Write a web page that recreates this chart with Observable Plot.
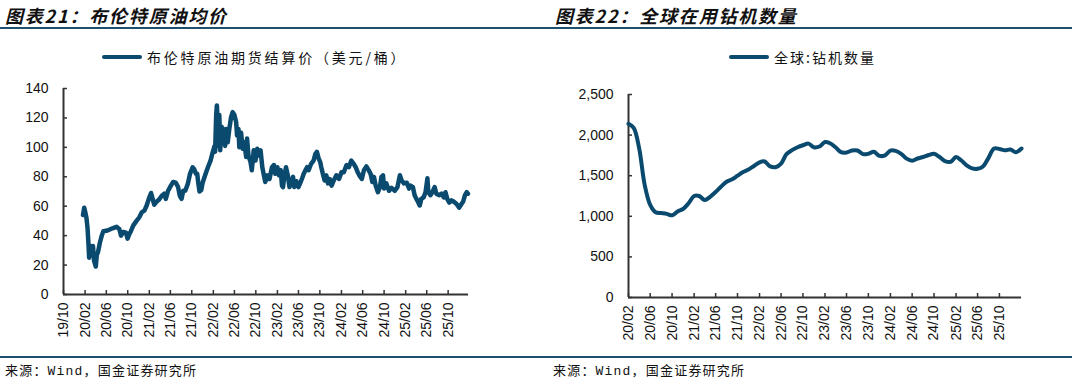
<!DOCTYPE html>
<html>
<head>
<meta charset="utf-8">
<script src="https://cdn.jsdelivr.net/npm/d3@7"></script>
<script src="https://cdn.jsdelivr.net/npm/@observablehq/plot@0.6"></script>
<style>
  html, body { margin: 0; padding: 0; background: #fff; }
  #root { position: relative; width: 1072px; height: 384px; overflow: hidden; background: #fff; }
  .title { position: absolute; top: 2px; font-family: "Noto Sans CJK SC", sans-serif; font-weight: 700; font-style: italic; font-size: 18px; letter-spacing: 1.8px; color: #111; white-space: nowrap; }
  .rule { position: absolute; left: 0; width: 1072px; height: 2px; background: #1f4f6e; }
  .legend { position: absolute; top: 47px; height: 20px; display: flex; align-items: center; font-family: "Noto Sans CJK SC", sans-serif; font-size: 14px; letter-spacing: 2px; color: #111; white-space: nowrap; }
  .legend .sw { width: 40px; height: 4px; border-radius: 2px; margin-right: 5px; }
  .foot { position: absolute; top: 360px; font-family: "Liberation Mono", "Noto Sans CJK SC", monospace; font-size: 13px; letter-spacing: 1.2px; color: #111; white-space: nowrap; }
  .chart { position: absolute; top: 80px; }
</style>
</head>
<body>
<div id="root">
  <div class="title" style="left:5px">图表21：布伦特原油均价</div>
  <div class="title" style="left:555px">图表22：全球在用钻机数量</div>
  <div class="rule" style="top:27px"></div>
  <div class="legend" style="left:102px; letter-spacing:2.8px"><span class="sw" id="sw1"></span><span>布伦特原油期货结算价（美元/桶）</span></div>
  <div class="legend" style="left:729px"><span class="sw" id="sw2"></span><span>全球:钻机数量</span></div>
  <div class="chart" id="c1" style="left:0px"></div>
  <div class="chart" id="c2" style="left:540px"></div>
  <div class="rule" style="top:356px"></div>
  <div class="foot" style="left:5px">来源：Wind，国金证券研究所</div>
  <div class="foot" style="left:553px">来源：Wind，国金证券研究所</div>
</div>
<script>
// ---------- Chart 21: Brent ----------
const brentDates = [
"2020-01-20","2020-01-27","2020-02-02","2020-02-09","2020-02-15","2020-02-20","2020-02-24","2020-03-04","2020-03-10","2020-03-17",
"2020-03-23","2020-04-02","2020-04-08","2020-04-15","2020-04-25","2020-05-06","2020-05-15","2020-06-08","2020-07-06","2020-07-29",
"2020-08-14","2020-08-24","2020-09-06","2020-09-21","2020-09-30","2020-10-10","2020-10-19","2020-11-02","2020-11-17","2020-12-06",
"2020-12-21","2021-01-04","2021-01-17","2021-01-29","2021-02-11","2021-02-20","2021-03-01","2021-03-14","2021-03-29","2021-04-12",
"2021-04-27","2021-05-06","2021-05-19","2021-06-04","2021-06-17","2021-07-02","2021-07-15","2021-07-25","2021-08-04","2021-08-13",
"2021-08-25","2021-09-08","2021-09-21","2021-10-06","2021-10-15","2021-10-25","2021-11-01","2021-11-08","2021-11-14","2021-11-24",
"2021-12-02","2021-12-16","2022-01-01","2022-01-16","2022-01-29","2022-02-08","2022-02-11","2022-02-17","2022-02-21","2022-02-27",
"2022-03-01","2022-03-07","2022-03-12","2022-03-20","2022-03-25","2022-04-01","2022-04-09","2022-04-16","2022-04-24","2022-05-03",
"2022-05-13","2022-05-22","2022-06-01","2022-06-11","2022-06-16","2022-06-24","2022-06-29","2022-07-09","2022-07-18","2022-07-27",
"2022-08-07","2022-08-12","2022-08-20","2022-09-01","2022-09-08","2022-09-19","2022-09-29","2022-10-09","2022-10-18","2022-10-28",
"2022-11-07","2022-11-16","2022-11-24","2022-12-05","2022-12-18","2023-01-01","2023-01-12","2023-01-20","2023-02-01","2023-02-10",
"2023-02-20","2023-02-27","2023-03-05","2023-03-12","2023-03-22","2023-04-01","2023-04-11","2023-04-20","2023-05-01","2023-05-08",
"2023-05-20","2023-06-01","2023-06-12","2023-06-22","2023-07-01","2023-07-11","2023-07-20","2023-07-29","2023-08-13","2023-08-26",
"2023-09-05","2023-09-14","2023-09-24","2023-10-03","2023-10-09","2023-10-18","2023-10-28","2023-11-07","2023-11-16","2023-11-26",
"2023-12-07","2023-12-19","2024-01-03","2024-01-18","2024-02-01","2024-02-14","2024-03-01","2024-03-14","2024-03-28","2024-04-10",
"2024-04-22","2024-05-04","2024-05-18","2024-05-27","2024-06-08","2024-06-22","2024-07-05","2024-07-16","2024-07-26","2024-08-04",
"2024-08-14","2024-08-27","2024-09-07","2024-09-16","2024-09-25","2024-10-01","2024-10-14","2024-10-29","2024-11-12","2024-12-01",
"2024-12-16","2024-12-30","2025-01-09","2025-01-22","2025-02-07","2025-02-20","2025-03-01","2025-03-14","2025-03-24","2025-04-03",
"2025-04-12","2025-04-22","2025-05-01","2025-05-14","2025-05-25","2025-06-05","2025-06-10","2025-06-22","2025-07-03","2025-07-16",
"2025-07-26","2025-08-09","2025-08-24","2025-09-07","2025-09-16","2025-09-26","2025-10-07","2025-10-20","2025-11-03","2025-11-18",
"2025-12-03","2025-12-16","2025-12-25","2026-01-05","2026-01-15","2026-01-22"
];
const brentValues = [
54,59,56,52,45,35,25,33,27,33,
23,19,27,29,35,40,43,43.5,45,46,
44.5,40,42.5,42,38,41,43,47,49.5,52.5,
56,57,60.5,65,69,65,61,63,64.5,67,
68.5,65,70.5,74,76.5,76,73,67,65,70.5,
70.5,75,82,86.5,85,82,82,75,70,71,
76,81,86.5,91,97,101,97,122,128.5,115,
101,122,98,114,106,112.5,101,112.5,103.5,112.5,
120.5,124,122,117,108,112.5,100,110,99,103.5,
93.5,106,94.5,90,84.5,98,91,99,94.5,98,
86.5,81,76.5,81,78.5,86.5,88,82,86.5,81,
84.5,74,73,80,86.5,81,73,76.5,80,73,
77,73,76,79,82,84.5,86.5,84.5,89,91,
95.5,97,92.5,90,86.5,82,77.5,81,75.5,78.5,
74,77.5,81,78.5,83,83,88,86.5,91,89,
86.5,83,80,78.5,84.5,87,84.5,82,76.5,80,
74,69.5,73,80,81,72,75.5,70.5,72.5,70.5,
73,81,77.5,75.5,76,72,74,73,67.5,65,
63,60.5,65,66,69.5,79,69.5,67.5,69.5,73,
68.5,67.5,68.5,66,69.5,65,62.5,64,63,61.5,
59,61.5,63,67.5,69.5,68.5
];
const brentYTicks = [0, 20, 40, 60, 80, 100, 120, 140];
const brentXTickLabels = ["19/10","20/02","20/06","20/10","21/02","21/06","21/10","22/02","22/06","22/10","23/02","23/06","23/10","24/02","24/06","24/10","25/02","25/06","25/10"];
const brentXDomain = ["2019-10-01", "2026-01-25"];

// ---------- Chart 22: global rig count ----------
const rigMonths = [
"2020-02","2020-03","2020-04","2020-05","2020-06","2020-07","2020-08","2020-09","2020-10","2020-11","2020-12",
"2021-01","2021-02","2021-03","2021-04","2021-05","2021-06","2021-07","2021-08","2021-09","2021-10","2021-11","2021-12",
"2022-01","2022-02","2022-03","2022-04","2022-05","2022-06","2022-07","2022-08","2022-09","2022-10","2022-11","2022-12",
"2023-01","2023-02","2023-03","2023-04","2023-05","2023-06","2023-07","2023-08","2023-09","2023-10","2023-11","2023-12",
"2024-01","2024-02","2024-03","2024-04","2024-05","2024-06","2024-07","2024-08","2024-09","2024-10","2024-11","2024-12",
"2025-01","2025-02","2025-03","2025-04","2025-05","2025-06","2025-07","2025-08","2025-09","2025-10","2025-11","2025-12",
"2026-01","2026-02"
];
const rigCounts = [
2140,2090,1830,1390,1140,1050,1040,1030,1012,1060,1090,
1160,1250,1250,1200,1240,1300,1365,1425,1455,1500,1545,1575,
1620,1665,1675,1615,1605,1650,1765,1815,1850,1875,1895,1850,
1860,1915,1900,1850,1790,1786,1810,1810,1765,1770,1795,1745,
1750,1810,1805,1770,1710,1685,1712,1730,1755,1770,1730,1680,
1670,1730,1690,1626,1590,1585,1613,1720,1835,1830,1812,1822,
1790,1835
];
const rigYTicks = [0, 500, 1000, 1500, 2000, 2500];
const rigXTickLabels = ["20/02","20/06","20/10","21/02","21/06","21/10","22/02","22/06","22/10","23/02","23/06","23/10","24/02","24/06","24/10","25/02","25/06","25/10"];
const rigXDomain = ["2020-02-01", "2026-02-01"];

// ---------- styling ----------
const lineColor = "#0b4a6f";
const axisColor = "#333";
document.getElementById("sw1").style.background = lineColor;
document.getElementById("sw2").style.background = lineColor;

const parseLabel = s => { const [y, m] = s.split("/").map(Number); return new Date(Date.UTC(2000 + y, m - 1, 1)); };
const fmt = d3.utcFormat("%y/%m");
const baseStyle = { fontFamily: "'Liberation Sans', Arial, sans-serif", fontSize: "14px", color: "#111", background: "white", overflow: "visible" };

function makeChart({ width, height, margins, xDomain, yDomain, yTicks, yFormat, xTicks, data, curve, strokeWidth }) {
  return Plot.plot({
    width, height,
    marginLeft: margins[0], marginRight: margins[1], marginTop: margins[2], marginBottom: margins[3],
    x: { type: "utc", domain: xDomain, label: null },
    y: { domain: yDomain, label: null },
    style: baseStyle,
    marks: [
      Plot.axisY(yTicks, { tickSize: 0, tickPadding: 15, tickFormat: yFormat, fill: "#111", label: null }),
      Plot.axisY(yTicks, { tickSize: -4, text: null, stroke: axisColor, strokeWidth: 1.5, label: null }),
      Plot.axisX(xTicks, { tickSize: 0, tickPadding: 8, tickRotate: -90, tickFormat: fmt, fill: "#111", label: null }),
      Plot.axisX(xTicks, { tickSize: -4, text: null, stroke: axisColor, strokeWidth: 1.5, label: null }),
      Plot.ruleX([xDomain[0]], { stroke: axisColor, strokeWidth: 2 }),
      Plot.ruleY([yDomain[0]], { stroke: axisColor, strokeWidth: 2 }),
      Plot.line(data, { x: "date", y: "value", stroke: lineColor, strokeWidth, curve, strokeLinejoin: "round", strokeLinecap: "round" })
    ]
  });
}

const brent = brentDates.map((d, i) => ({ date: new Date(d), value: brentValues[i] }));
const rigs = rigMonths.map((m, i) => ({ date: new Date(m + "-01"), value: rigCounts[i] }));

document.getElementById("c1").appendChild(makeChart({
  width: 540, height: 270, margins: [63, 72, 8, 56],
  xDomain: brentXDomain.map(d => new Date(d)), yDomain: [brentYTicks[0], brentYTicks[brentYTicks.length - 1]],
  yTicks: brentYTicks, yFormat: d3.format("d"), xTicks: brentXTickLabels.map(parseLabel),
  data: brent, curve: "linear", strokeWidth: 4.5
}));

document.getElementById("c2").appendChild(makeChart({
  width: 532, height: 270, margins: [88, 51, 14, 53],
  xDomain: rigXDomain.map(d => new Date(d)), yDomain: [rigYTicks[0], rigYTicks[rigYTicks.length - 1]],
  yTicks: rigYTicks, yFormat: d3.format(","), xTicks: rigXTickLabels.map(parseLabel),
  data: rigs, curve: "catmull-rom", strokeWidth: 4
}));
</script>
</body>
</html>
